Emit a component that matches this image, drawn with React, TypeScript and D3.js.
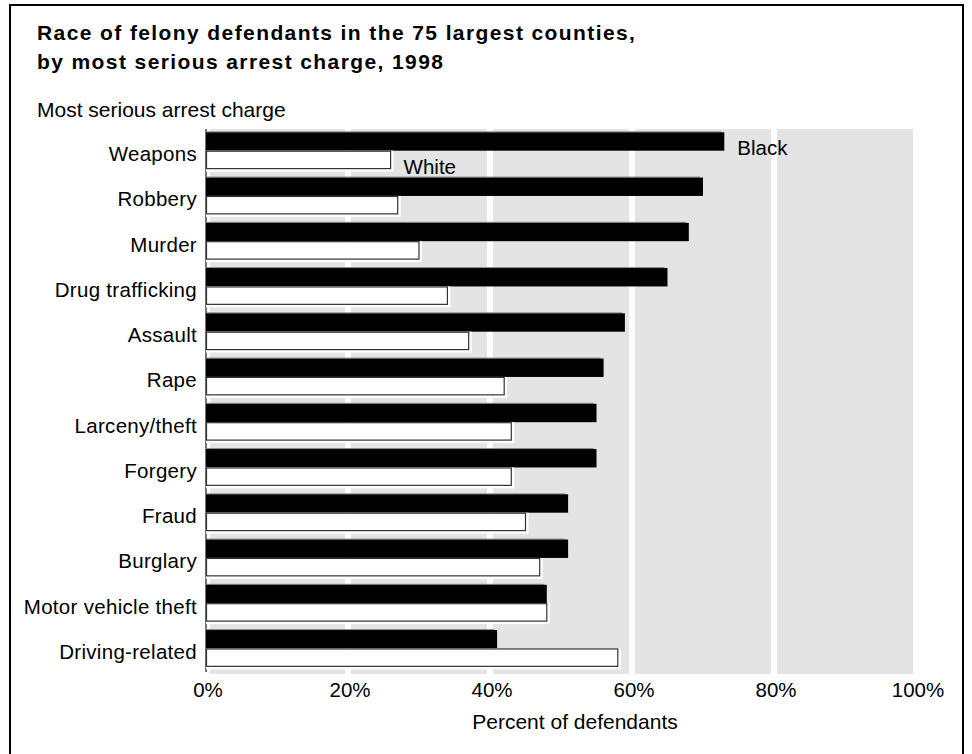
import React from "react";
import * as d3 from "d3";

const categories = [
  "Weapons",
  "Robbery",
  "Murder",
  "Drug trafficking",
  "Assault",
  "Rape",
  "Larceny/theft",
  "Forgery",
  "Fraud",
  "Burglary",
  "Motor vehicle theft",
  "Driving-related",
];
const blackValues = [73, 70, 68, 65, 59, 56, 55, 55, 51, 51, 48, 41];
const whiteValues = [26, 27, 30, 34, 37, 42, 43, 43, 45, 47, 48, 58];
const tickValues = [0, 20, 40, 60, 80, 100];
const tickLabels = ["0%", "20%", "40%", "60%", "80%", "100%"];

const FONT = "'Liberation Sans', Arial, Helvetica, sans-serif";

export default function App() {
  const W = 972;
  const H = 754;
  const x = d3.scaleLinear().domain([0, 100]).range([206, 916]);
  const y = d3.scaleBand<string>().domain(categories).range([129, 672]).paddingInner(0);
  const plotTop = 129;
  const plotBottom = 674;
  const panels = d3.range(5).map((i) => ({
    x0: x(i * 20) + (i === 0 ? 4 : 3),
    x1: x((i + 1) * 20) - 3,
  }));
  const barH = 18.4;
  const off = 3.3;
  const fs = 20.5;

  return (
    <svg
      width={W}
      height={H}
      style={{ position: "absolute", left: 0, top: 0, background: "#fff" }}
      fontFamily={FONT}
    >
      <rect x={0} y={0} width={W} height={H} fill="#fff" />
      <rect x={10} y={5} width={953} height={760} fill="none" stroke="#000" strokeWidth={2} />

      <text x={37} y={40} fontSize={21} fontWeight="bold" letterSpacing={1.4} fill="#000">
        Race of felony defendants in the 75 largest counties,
      </text>
      <text x={37} y={69} fontSize={21} fontWeight="bold" letterSpacing={1.4} fill="#000">
        by most serious arrest charge, 1998
      </text>
      <text x={37} y={117} fontSize={21} fill="#000">
        Most serious arrest charge
      </text>

      {panels.map((p, i) => (
        <rect key={i} x={p.x0} y={plotTop} width={p.x1 - p.x0} height={plotBottom - plotTop} fill="#e4e4e4" />
      ))}

      <line x1={x(0)} x2={x(0)} y1={plotTop} y2={672} stroke="#444" strokeWidth={1.5} />

      {categories.map((c, i) => {
        const b = y(c)!;
        const yb = b + off;
        const yw = yb + barH;
        return (
          <g key={c}>
            <rect x={x(0)} y={yb - 1} width={x(blackValues[i]) - x(0) - 3} height={1} fill="#888" />
            <rect x={x(0)} y={yb} width={x(blackValues[i]) - x(0)} height={barH} fill="#000" />
            <rect x={x(0)} y={yw} width={x(whiteValues[i]) - x(0) + 3} height={barH + 2.5} fill="#fff" />
            <rect
              x={x(0) + 0.5}
              y={yw + 0.5}
              width={x(whiteValues[i]) - x(0) - 0.5}
              height={barH - 1}
              fill="#fff"
              stroke="#333"
              strokeWidth={1.2}
            />
            <text x={197} y={b + 32} fontSize={fs} letterSpacing={0.3} textAnchor="end" fill="#000">
              {c}
            </text>
          </g>
        );
      })}

      <text x={x(blackValues[0]) + 13} y={155} fontSize={fs} fill="#000">
        Black
      </text>
      <text x={x(whiteValues[0]) + 13} y={174} fontSize={fs} fill="#000">
        White
      </text>

      {tickValues.map((v, i) => (
        <text key={v} x={x(v) + 2} y={697} fontSize={fs} textAnchor="middle" fill="#000">
          {tickLabels[i]}
        </text>
      ))}
      <text x={575} y={729} fontSize={21} textAnchor="middle" fill="#000">
        Percent of defendants
      </text>
    </svg>
  );
}
